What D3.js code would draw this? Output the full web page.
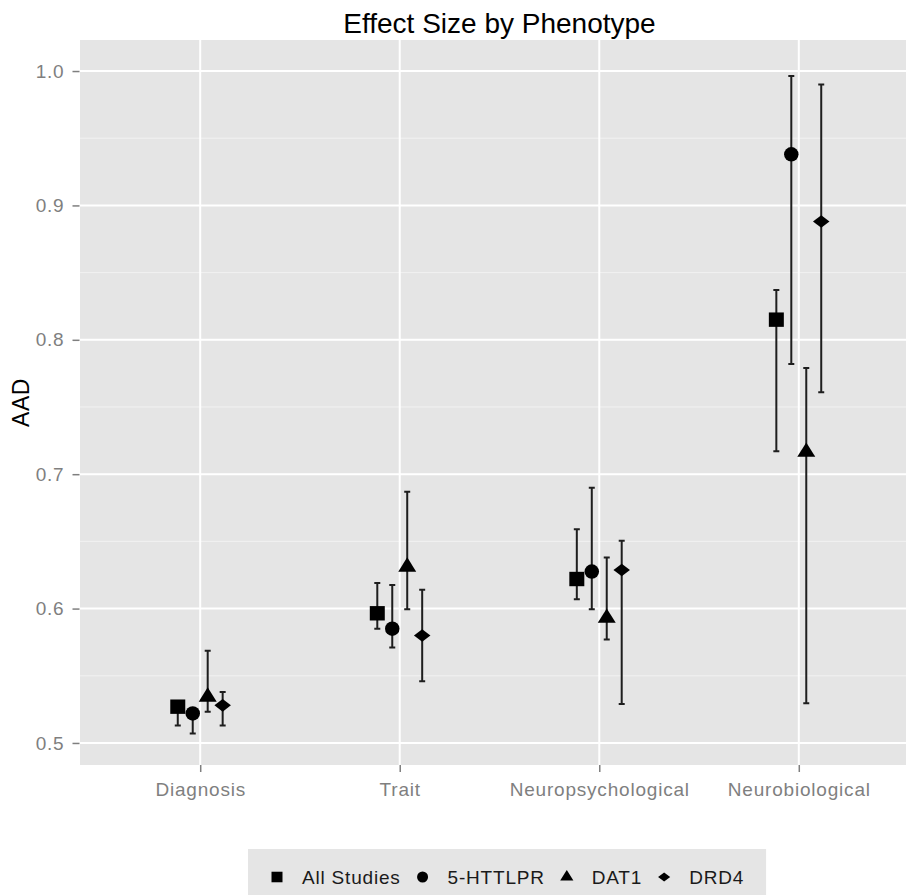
<!DOCTYPE html>
<html>
<head>
<meta charset="utf-8">
<script src="https://cdn.jsdelivr.net/npm/d3@7"></script>
<style>
  html, body { margin: 0; padding: 0; background: #ffffff; }
  svg { display: block; }
  text { font-family: "Liberation Sans", Arial, sans-serif; }
</style>
</head>
<body>
<svg id="chart" width="906" height="895"></svg>
<script>
// ---------------- data ----------------
const categories = ["Diagnosis", "Trait", "Neuropsychological", "Neurobiological"];
const seriesNames = ["All Studies", "5-HTTLPR", "DAT1", "DRD4"];
const seriesShapes = ["square", "circle", "triangle", "diamond"];

const allStudiesEst = [0.527, 0.5965, 0.622, 0.815];
const allStudiesLow = [0.513, 0.585, 0.607, 0.717];
const allStudiesHigh = [0.531, 0.619, 0.659, 0.837];

const httlprEst = [0.522, 0.585, 0.6275, 0.938];
const httlprLow = [0.507, 0.571, 0.5995, 0.782];
const httlprHigh = [0.525, 0.6176, 0.690, 0.9964];

const dat1Est = [0.5343, 0.631, 0.593, 0.7165];
const dat1Low = [0.5233, 0.5995, 0.577, 0.5295];
const dat1High = [0.5687, 0.687, 0.638, 0.779];

const drd4Est = [0.528, 0.580, 0.6287, 0.888];
const drd4Low = [0.513, 0.546, 0.529, 0.761];
const drd4High = [0.538, 0.614, 0.6505, 0.990];

const yTicks = [0.5, 0.6, 0.7, 0.8, 0.9, 1.0];
const yMinorTicks = [0.55, 0.65, 0.75, 0.85, 0.95];
const yDomain = [0.4836, 1.0231];

const chartTitle = "Effect Size by Phenotype";
const yTitle = "AAD";

// ---------------- build rows ----------------
const seriesEst = [allStudiesEst, httlprEst, dat1Est, drd4Est];
const seriesLow = [allStudiesLow, httlprLow, dat1Low, drd4Low];
const seriesHigh = [allStudiesHigh, httlprHigh, dat1High, drd4High];
const rows = [];
seriesNames.forEach((s, si) => {
  categories.forEach((c, ci) => {
    rows.push({ series: s, shape: seriesShapes[si], cat: c,
      est: seriesEst[si][ci], lo: seriesLow[si][ci], hi: seriesHigh[si][ci] });
  });
});

// ---------------- layout ----------------
const svg = d3.select("#chart");
const panel = { left: 80, top: 40, right: 919, bottom: 765 };

const x = d3.scalePoint().domain(categories).range([panel.left + 0.5, panel.right - 0.5]).padding(0.6);
const step = x.step();
const xd = d3.scaleBand().domain(seriesNames).range([-0.15 * step, 0.15 * step]);
const y = d3.scaleLinear().domain(yDomain).range([panel.bottom, panel.top]);

const xPos = d => x(d.cat) + xd(d.series) + xd.bandwidth() / 2;

function shapePath(shape, cx, cy, s) {
  const p = d3.path();
  if (shape === "square") {
    const h = s / 2;
    p.rect(cx - h, cy - h * 0.96, s, s * 0.96);
  } else if (shape === "circle") {
    p.moveTo(cx + s / 2, cy);
    p.arc(cx, cy, s / 2, 0, 2 * Math.PI);
  } else if (shape === "triangle") {
    const r = s * 0.64;
    const w = s * 0.6;
    p.moveTo(cx, cy - r);
    p.lineTo(cx + w, cy + r / 2);
    p.lineTo(cx - w, cy + r / 2);
    p.closePath();
  } else if (shape === "diamond") {
    const w = s * 0.55, h = s * 0.42;
    p.moveTo(cx, cy - h);
    p.lineTo(cx + w, cy);
    p.lineTo(cx, cy + h);
    p.lineTo(cx - w, cy);
    p.closePath();
  }
  return p.toString();
}
const markerSize = { square: 15, circle: 14.5, triangle: 15, diamond: 15 };

// panel background
svg.append("rect")
  .attr("x", panel.left).attr("y", panel.top)
  .attr("width", panel.right - panel.left).attr("height", panel.bottom - panel.top)
  .attr("fill", "#e5e5e5");

// minor grid
svg.append("g").selectAll("line").data(yMinorTicks).join("line")
  .attr("x1", panel.left).attr("x2", panel.right)
  .attr("y1", d => y(d)).attr("y2", d => y(d))
  .attr("stroke", "#f2f2f2").attr("stroke-width", 1);

// major grid horizontal
svg.append("g").selectAll("line").data(yTicks).join("line")
  .attr("x1", panel.left).attr("x2", panel.right)
  .attr("y1", d => y(d)).attr("y2", d => y(d))
  .attr("stroke", "#ffffff").attr("stroke-width", 2);

// major grid vertical
svg.append("g").selectAll("line").data(categories).join("line")
  .attr("x1", d => x(d)).attr("x2", d => x(d))
  .attr("y1", panel.top).attr("y2", panel.bottom)
  .attr("stroke", "#ffffff").attr("stroke-width", 2);

// axes
const yAxis = d3.axisLeft(y).tickValues(yTicks).tickFormat(d3.format(".1f")).tickSize(7).tickPadding(8);
const gy = svg.append("g").attr("transform", `translate(${panel.left - 0.5},0)`).call(yAxis);
gy.select(".domain").remove();
gy.selectAll(".tick line").attr("stroke", "#7f7f7f").attr("stroke-width", 1.5);
gy.selectAll(".tick text").attr("fill", "#7f7f7f").attr("font-size", 19)
  .attr("letter-spacing", 0.8).attr("font-family", "'Liberation Sans', Arial, sans-serif");

const xAxis = d3.axisBottom(x).tickSize(7).tickPadding(11);
const gx = svg.append("g").attr("transform", `translate(0,${panel.bottom})`).call(xAxis);
gx.select(".domain").remove();
gx.selectAll(".tick line").attr("stroke", "#7f7f7f").attr("stroke-width", 1.5);
gx.selectAll(".tick text").attr("fill", "#7f7f7f").attr("font-size", 19)
  .attr("letter-spacing", 0.8).attr("font-family", "'Liberation Sans', Arial, sans-serif");

// error bars
const capW = 3;
const eb = svg.append("g").attr("stroke", "#1e1e1e").attr("stroke-width", 2).attr("fill", "none");
eb.selectAll("path").data(rows).join("path")
  .attr("d", d => {
    const cx = xPos(d), y1 = y(d.hi), y2 = y(d.lo);
    return `M${cx - capW},${y1}H${cx + capW}M${cx},${y1}V${y2}M${cx - capW},${y2}H${cx + capW}`;
  });

// points
svg.append("g").selectAll("path").data(rows).join("path")
  .attr("d", d => shapePath(d.shape, xPos(d), y(d.est), markerSize[d.shape]))
  .attr("fill", "#000000");

// title
svg.append("text")
  .attr("x", (panel.left + panel.right) / 2).attr("y", 33)
  .attr("text-anchor", "middle").attr("font-size", 28).attr("fill", "#000")
  .text(chartTitle);

// y title
svg.append("text")
  .attr("transform", `translate(29,${(panel.top + panel.bottom) / 2}) rotate(-90)`)
  .attr("text-anchor", "middle").attr("font-size", 23).attr("letter-spacing", 0.6).attr("fill", "#000")
  .text(yTitle);

// legend
const legend = svg.append("g");
const legBg = legend.append("rect").attr("fill", "#e5e5e5");
const legendY = 877;
let cursor = 0;
const items = [];
seriesNames.forEach((s, i) => {
  const g = legend.append("g");
  const keyX = cursor;
  g.append("path").attr("d", shapePath(seriesShapes[i], keyX, legendY, 11)).attr("fill", "#000");
  const t = g.append("text").attr("x", keyX + 25).attr("y", legendY + 7)
    .attr("font-size", 19).attr("letter-spacing", 0.8).attr("fill", "#1a1a1a").text(s);
  const w = t.node().getComputedTextLength();
  cursor = keyX + 25 + w + 22;
  items.push(g);
});
const contentW = cursor - 22; // last text end
const legLeft = 248;
const firstKey = legLeft + 29;
legend.attr("transform", `translate(${firstKey},0)`);
legBg.attr("x", -29).attr("y", 849).attr("width", contentW + 29 + 22).attr("height", 60);
</script>
</body>
</html>
